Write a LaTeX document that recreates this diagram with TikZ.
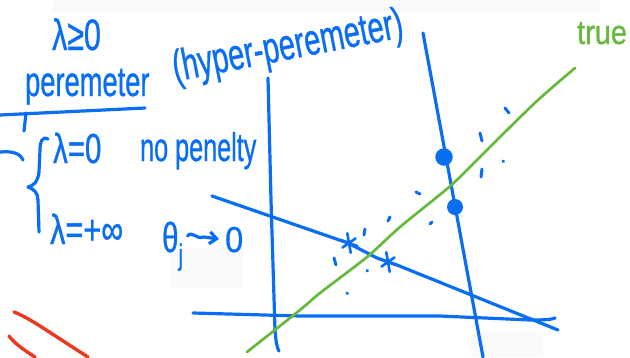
\documentclass[tikz,border=0pt]{standalone}
\usepackage{fontspec}
\setmainfont{Liberation Sans}
\newfontfamily\hand{Liberation Sans}[FakeBold=1]
\usetikzlibrary{arrows.meta,calc}
\definecolor{inkblue}{RGB}{10,110,245}
\definecolor{inkgreen}{RGB}{102,185,60}
\definecolor{inkred}{RGB}{236,56,32}
\definecolor{faint}{RGB}{250,250,250}
\tikzset{
  ink/.style={draw=inkblue, line width=3.2pt, line cap=round, line join=round},
  greenink/.style={draw=inkgreen, line width=2.7pt, line cap=round, line join=round},
  redink/.style={draw=inkred, line width=3.4pt, line cap=round},
  hw/.style={text=inkblue, inner sep=0pt, anchor=base west},
  speck/.style={draw=inkblue, line width=3pt, line cap=round},
  bigdot/.style={circle, fill=inkblue, inner sep=0pt},
}
\newcommand{\fs}[1]{\hand\fontsize{#1}{#1}\selectfont}
\begin{document}
\begin{tikzpicture}[x=1pt,y=-1pt]
\useasboundingbox (0,0) rectangle (630,357);
% faint background patches
\fill[faint] (53,0) rectangle (600,12);
\fill[faint] (170,248) rectangle (243,288);
\fill[faint] (471,332) rectangle (543,357);

% texts
\node[hw, font=\fs{44}, xscale=0.69] (lam) at (52,50) {λ≥0};
\node[hw, font=\fs{42}, xscale=0.65] (param) at (25,96) {peremeter};
\node[text=inkblue, inner sep=0pt, font=\fs{44}, rotate=11, xscale=0.66] (hyper) at (288,48) {(hyper-peremeter)};
\node[hw, font=\fs{42}, xscale=0.70] (lz) at (53,163) {λ=0};
\node[hw, font=\fs{40}, xscale=0.63] (nopen) at (140,161) {no penelty};
\node[hw, font=\fs{42}, xscale=0.73] (linf) at (50,244) {λ=+∞};
\node[hw, font=\fs{42}, xscale=0.7] (theta) at (162,252) {θ\textsubscript{j}};
\node[hw, font=\fs{36}, xscale=0.9] (zero) at (225,252) {0};
\node[text=inkgreen, inner sep=0pt, anchor=base west, font=\fs{34}, xscale=0.85] (true) at (577,44) {true};

% underline, tick, dash and brace
\coordinate (u1) at (0,115);
\coordinate (u2) at (145,108);
\draw[ink] (u1) -- (u2);
\coordinate (t1) at (26,113);
\coordinate (t2) at (24,131);
\draw[ink] (t1) -- (t2);
\coordinate (d1) at (0,152);
\coordinate (d2) at (23,160);
\draw[ink] (d1) .. controls (12,151) and (20,153) .. (d2);
\draw[ink] (48,139) .. controls (42,136) and (40,142) .. (40,150)
  -- (39,172) .. controls (38,182) and (33,186) .. (28,187)
  .. controls (34,189) and (38,193) .. (38,200) -- (39,232);

% arrow theta -> 0
\coordinate (a1) at ($(theta.base east)+(4,-16)$);
\coordinate (a2) at ($(zero.base west)+(-6,-13)$);
\draw[ink, -{Straight Barb[length=7pt,width=12pt]}]
  (a1) .. controls ($(a1)+(4,-6)$) and ($(a1)+(9,4)$) .. ($(a1)+(16,1)$) -- (a2);

% red strokes
\coordinate (r1a) at (14,312);
\coordinate (r1b) at (88,357);
\coordinate (r2a) at (9,336);
\coordinate (r2b) at (35,357);
\draw[redink] (r1a) .. controls (30,318) and (50,333) .. (r1b);
\draw[redink] (r2a) .. controls (14,343) and (24,350) .. (r2b);

% plot lines
\draw[ink] (268,78) -- (271,200) -- (275,330) .. controls (276,342) and (277,348) .. (279,351);
\draw[ink] (193,313) -- (300,316) -- (440,316) -- (530,320) .. controls (540,320) and (550,320) .. (555,318);
\draw[ink] (212,196) -- (348,243) -- (377,258) -- (397,265) -- (558,330);
\draw[ink] (423,33) -- (483,357);
\draw[greenink] plot[smooth, tension=0.5] coordinates {(247,352) (300,310) (320,293) (367,257) (400,227) (448,188) (470,167) (485,152) (500,137) (538,100) (575,68)};

% points
\node[bigdot, minimum size=17.5pt] (p1) at (444,157) {};
\node[bigdot, minimum size=16pt] (p2) at (455,207) {};

% asterisks
\coordinate (s1) at (349,243);
\coordinate (s2) at (388,262);
\foreach \a/\l in {80/10, 20/9, 145/8} {
  \draw[ink, line width=2.6pt] ($(s1)+(\a:\l)$) -- ($(s1)+(\a+180:\l)$);
  \draw[ink, line width=2.6pt] ($(s2)+(\a:\l)$) -- ($(s2)+(\a+180:\l)$);
}

% scattered marks
\foreach \xa/\ya/\xb/\yb in {505/108/509/113, 480/133/482/141, 503/161/503.5/161.5,
  482/169/481/177, 416/192/420/194, 388/221/390/217, 430/224/432/222,
  365/229/364/235, 334/258/336/265, 367/271/367.5/270.5, 347/293/347.5/293.5} {
  \draw[speck] (\xa,\ya) -- (\xb,\yb);
}
\end{tikzpicture}
\end{document}
